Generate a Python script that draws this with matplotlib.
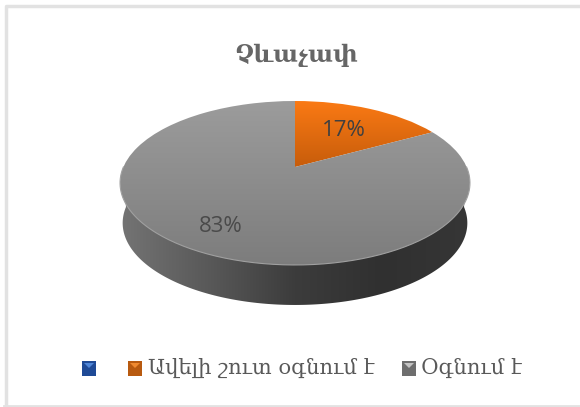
import numpy as np
import matplotlib
matplotlib.use("Agg")
import matplotlib.pyplot as plt
from matplotlib.colors import LinearSegmentedColormap
from matplotlib.patches import Polygon, Rectangle
from matplotlib.transforms import Transform

title = "Չևաչափ"
categories = ["", "Ավելի շուտ օգնում է", "Օգնում է"]
values = [0, 17, 83]
pct_labels = ["", "17%", "83%"]

plt.rcParams['font.family'] = ['DejaVu Serif', 'DejaVu Sans']

# disc geometry in picture pixels
CX, CY, K, P, S = 295, 167, 0.195, -46.3, 171.6
DEPTH = 40


class Tilt(Transform):
    # pie disc (unit circle) -> tilted disc, as seen in perspective
    input_dims = 2
    output_dims = 2

    def transform_non_affine(self, xy):
        xy = np.asarray(xy)
        w = 1 + K * xy[:, 1]
        return np.column_stack([CX + S * xy[:, 0] / w, (CY + P * xy[:, 1]) / w])


def gradient(ax, colors, extent, clip, horizontal=False):
    cmap = LinearSegmentedColormap.from_list("g", colors)
    g = np.linspace(0, 1, 256)
    g = g.reshape(1, -1) if horizontal else g.reshape(-1, 1)
    im = ax.imshow(g, cmap=cmap, extent=extent, aspect="auto", origin="upper", zorder=2)
    im.set_clip_path(clip)
    return im


fig = plt.figure(figsize=(5.8, 4.07), dpi=100)
ax = fig.add_axes([0, 0, 1, 1])

wedges, _ = ax.pie(values, startangle=90, counterclock=False, radius=1)
tilt = Tilt() + ax.transData
ax.set_aspect("auto")

# side wall of the disc
t = np.linspace(0, np.pi, 200)
rim = np.column_stack([np.cos(t), -np.sin(t)])
lower = Tilt().transform(rim)
floor = lower[::-1] + [0, DEPTH]
floor[:, 0] = CX + (floor[:, 0] - CX) * 0.985
wall_pts = np.vstack([[lower[-1]], floor, [lower[0]]])
wall = Polygon(wall_pts, closed=True, transform=ax.transData, fc="none", ec="none")
ax.add_patch(wall)
gradient(ax, ["#747474", "#595959", "#3c3c3c", "#303030", "#363636"],
         (120, 470, 310, 180), wall, horizontal=True)

top_colors = {1: ["#fb7a14", "#c65c0b"], 2: ["#9c9c9c", "#7c7c7c"]}
for i, w in enumerate(wedges):
    w.set_transform(tilt)
    w.set_facecolor("none")
    w.set_edgecolor("none")
    if values[i] > 0:
        extent = (115, 475, 268, 100) if i == 2 else (295, 435, 168, 100)
        gradient(ax, top_colors[i], extent, w)

# light edge along the front of the top face
ax.plot(lower[:, 0], lower[:, 1], color="#a0a0a0", lw=0.8, zorder=3)

ax.text(344, 131, pct_labels[1], ha="center", va="center", fontsize=16,
        color="#404040", family="Open Sans", zorder=4)
ax.text(221, 227, pct_labels[2], ha="center", va="center", fontsize=16,
        color="#4a4a4a", family="Open Sans", zorder=4)

ax.text(296, 55, title, ha="center", va="center", fontsize=17, color="#666666",
        weight="bold")

# legend, built by hand so the beveled keys can sit where they do
key_x = [82, 128, 402]
text_x = [None, 148, 421]
leg_colors = [("#4f86d8", "#1f4a96"), ("#f08a30", "#b85a10"), ("#c4c4c4", "#6e6e6e")]
for i, name in enumerate(categories):
    x = key_x[i]
    ax.add_patch(Rectangle((x, 361), 14, 14.5, fc=leg_colors[i][1], ec="none"))
    ax.add_patch(Polygon([(x + 2, 363), (x + 12, 363), (x + 7, 368)], closed=True,
                         fc=leg_colors[i][0], ec="none"))
    if name:
        ax.text(text_x[i], 368, name, ha="left", va="center", fontsize=15.2, color="#595959")

# chart frame, only the top, left and bottom show
ax.plot([5.5, 5.5, 580], [407, 6, 6], color="#e2e2e2", lw=2.5)
ax.plot([4, 580], [406, 406], color="#e2e2e2", lw=2)

ax.set_xlim(0, 580)
ax.set_ylim(407, 0)
ax.axis("off")
fig.savefig("out.png", dpi=100)
